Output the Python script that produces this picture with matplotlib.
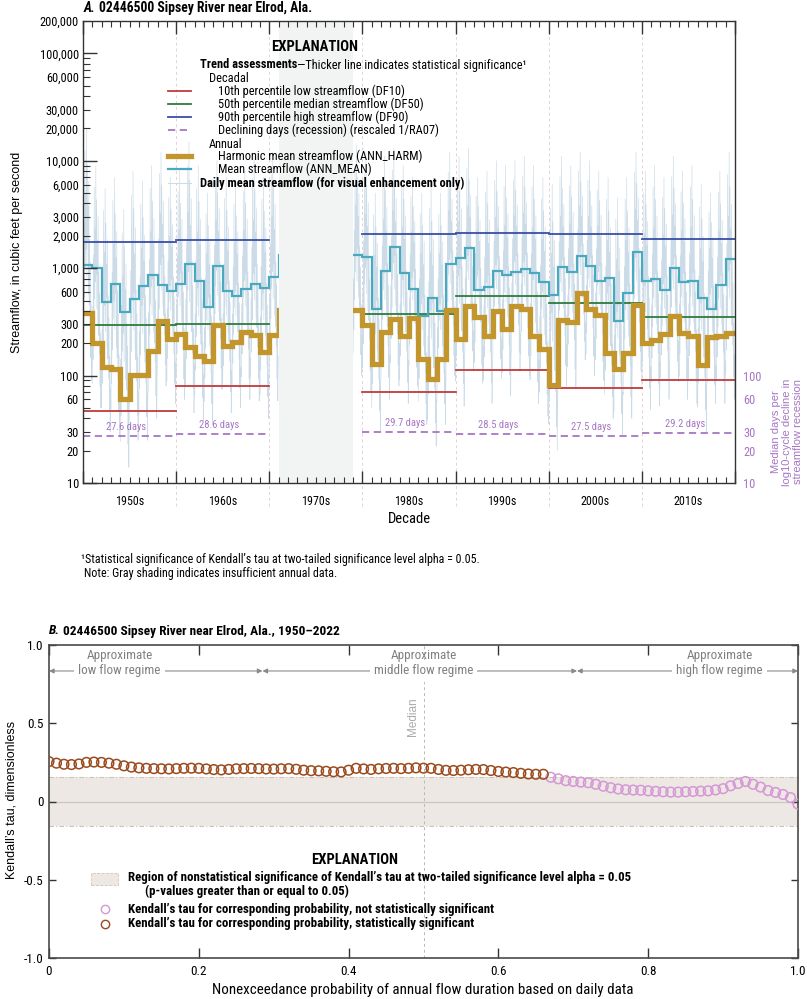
import os
import numpy as np
import matplotlib
matplotlib.use("Agg")
import matplotlib.pyplot as plt
from matplotlib.lines import Line2D
from matplotlib.patches import Rectangle
from matplotlib.ticker import FixedLocator, FixedFormatter, NullLocator, NullFormatter, FuncFormatter
import matplotlib.font_manager as fm

# ---------------- Panel A data ----------------
water_years = list(range(1951, 1972)) + list(range(1980, 2021))
ann_harm = [385, 200, 121, 115, 60, 101, 101, 169, 325, 219,
            242, 186, 152, 138, 296, 189, 207, 256, 239, 167, 239,
            408, 296, 128, 253, 336, 235, 341, 142, 92, 142,
            408, 218, 445, 354, 234, 402, 270, 448, 417, 235,
            176, 82, 330, 318, 584, 417, 367, 161, 115, 163,
            454, 200, 214, 244, 359, 251, 234, 126, 227, 234, 251]
ann_mean = [1071, 1012, 488, 708, 394, 516, 687, 864, 702, 613,
            713, 1094, 760, 438, 1048, 618, 555, 640, 718, 655, 822,
            1327, 1279, 417, 948, 1566, 908, 635, 359, 531, 399,
            1094, 1236, 1532, 627, 673, 942, 864, 916, 984, 908,
            749, 563, 1033, 916, 1300, 1055, 760, 805, 325, 591,
            1425, 765, 793, 627, 1012, 739, 765, 531, 417, 698, 1218]
# estimated annual extremes of the daily record (visual enhancement only)
daily_peak = [20000, 9000, 5500, 7000, 3500, 8000, 6500, 9000, 12000, 7000,
              8000, 15000, 9000, 5000, 10000, 7000, 6000, 8000, 11000, 7000, 12000,
              14000, 12000, 5000, 11000, 13000, 9000, 7000, 5000, 6000, 5000,
              12000, 11000, 13000, 7000, 8000, 10000, 9000, 10000, 11000, 9000,
              7000, 6000, 11000, 9000, 12000, 10000, 8000, 7000, 4500, 7000,
              12000, 8000, 9000, 7000, 11000, 8000, 9000, 6000, 5000, 8000, 12000]
daily_low = [90, 50, 30, 28, 14, 25, 25, 40, 80, 55,
             60, 45, 38, 35, 75, 45, 50, 60, 58, 40, 58,
             100, 70, 30, 60, 80, 55, 80, 35, 22, 35,
             100, 52, 110, 85, 55, 95, 65, 110, 100, 55,
             42, 20, 80, 75, 140, 100, 90, 40, 28, 40,
             110, 48, 52, 60, 88, 60, 55, 30, 55, 55, 60]
# typical within-year hydrograph (fraction between annual low and peak, log space)
hydrograph_shape = [0.10, 0.42, 0.20, 0.63, 0.33, 0.91, 0.45, 0.74, 0.52, 1.00, 0.41, 0.86,
                    0.55, 0.69, 0.34, 0.79, 0.30, 0.56, 0.22, 0.47, 0.09, 0.31, 0.00, 0.18]

decade_starts = [1950, 1960, 1980, 1990, 2000, 2010]
df10 = [47, 80, 71, 113, 76, 91]
df50 = [296, 300, 375, 555, 471, 354]
df90 = [1766, 1832, 2069, 2141, 2096, 1871]
recession_days = [27.6, 28.6, 29.7, 28.5, 27.5, 29.2]
gap_start, gap_end = 1971, 1979
decade_label_starts = [1950, 1960, 1970, 1980, 1990, 2000, 2010]
decade_labels = ["1950s", "1960s", "1970s", "1980s", "1990s", "2000s", "2010s"]
left_tick_labels = [10, 20, 30, 60, 100, 200, 300, 600, 1000, 2000, 3000, 6000,
                    10000, 20000, 30000, 60000, 100000, 200000]
right_tick_labels = [10, 20, 30, 60, 100]

# ---------------- Panel B data ----------------
probability = np.linspace(0.0, 1.0, 101)
kendall_tau = [0.255, 0.245, 0.238, 0.236, 0.240, 0.250, 0.252, 0.250, 0.245, 0.238,
               0.228, 0.220, 0.215, 0.212, 0.210, 0.209, 0.208, 0.210, 0.212, 0.213,
               0.212, 0.208, 0.204, 0.202, 0.205, 0.209, 0.210, 0.211, 0.210, 0.208,
               0.207, 0.209, 0.210, 0.206, 0.200, 0.197, 0.196, 0.193, 0.190, 0.189,
               0.200, 0.212, 0.208, 0.205, 0.209, 0.211, 0.212, 0.210, 0.212, 0.215,
               0.213, 0.212, 0.205, 0.199, 0.198, 0.200, 0.203, 0.205, 0.204, 0.198,
               0.192, 0.188, 0.185, 0.180, 0.176, 0.174, 0.174, 0.155, 0.145, 0.133,
               0.128, 0.124, 0.120, 0.110, 0.098, 0.088, 0.080, 0.075, 0.073, 0.072,
               0.068, 0.065, 0.062, 0.060, 0.060, 0.062, 0.064, 0.066, 0.068, 0.074,
               0.082, 0.100, 0.115, 0.128, 0.110, 0.092, 0.070, 0.058, 0.045, 0.025,
               -0.017]
band_half = 0.157

# ---------------- fonts ----------------
names = {f.name for f in fm.fontManager.ttflist}
SANS = "Liberation Sans" if "Liberation Sans" in names else "DejaVu Sans"


def pick_condensed():
    for p in ["Liberation Sans Narrow", "Roboto Condensed", "Noto Sans Condensed",
              "DejaVu Sans Condensed", "Open Sans Condensed", "Arial Narrow"]:
        if p in names:
            return p, "normal"
    best = None
    order = ["Roboto", "Noto Sans", "Liberation Sans", "DejaVu Sans", "Open Sans", "Lato", "Inter"]
    for f in fm.fontManager.ttflist:
        base = os.path.basename(f.fname).lower()
        st = str(f.stretch).lower()
        if (("condensed" in base or "narrow" in base or st == "condensed")
                and not any(k in base for k in ("semi", "extra", "ultra"))):
            rank = order.index(f.name) if f.name in order else 99
            if best is None or rank < best[0]:
                best = (rank, f.name, f.stretch)
    if best is not None:
        return best[1], best[2]
    return SANS, "normal"


COND, COND_STRETCH = pick_condensed()
plt.rcParams["font.family"] = [COND, "DejaVu Sans"]
plt.rcParams["font.stretch"] = COND_STRETCH

C_RED = "#bf3a3c"
C_GREEN = "#2e7b3c"
C_BLUE = "#3a4ea5"
C_PURP = "#a676c4"
C_GOLD = "#c3962d"
C_TEAL = "#4ba9bf"
C_DAILY = "#cbdbe7"
C_SHADE = "#f2f4f4"
C_SIG = "#9a4a1c"
C_NS = "#d597d5"
C_SPINE = "#333333"

W, H = 807, 999
fig = plt.figure(figsize=(W / 100, H / 100), dpi=100)
renderer = fig.canvas.get_renderer()

# scale condensed text so that a reference string has the reference width
_probe = fig.text(0, 0, "10th percentile low streamflow (DF10)", fontsize=8.5)
_w = _probe.get_window_extent(renderer=renderer).width
_probe.remove()
K = min(1.1, max(0.78, 187.0 / _w))


def fs(v):
    return v * K


def fx(p):
    return p / W


def fy(p):
    return 1 - p / H


def ftext(x, y, s, **kw):
    kw.setdefault("va", "center")
    return fig.text(fx(x), fy(y), s, **kw)


def right_px(t):
    return t.get_window_extent(renderer=renderer).x1


# =============== Panel A ===============
axA = fig.add_axes([fx(83), fy(483), (735 - 83) / W, (483 - 21) / H])
axA.set_yscale("log")
axA.set_xlim(1950, 2020)
axA.set_ylim(10, 200000)

xs, ys = [], []
prev = None
n = len(hydrograph_shape)
for w, lo, pk in zip(water_years, daily_low, daily_peak):
    if prev is not None and w - prev > 1:
        xs.append(np.nan)
        ys.append(np.nan)
    for i, f in enumerate(hydrograph_shape):
        xs.append(w - 1 + i / n)
        ys.append(lo * (pk / lo) ** f)
    prev = w
axA.plot(xs, ys, color=C_DAILY, lw=0.45, zorder=1)

for d in range(1960, 2020, 10):
    axA.axvline(d, ymin=-0.05, ymax=1, color="#e3d2d2", lw=0.7, ls=(0, (3, 3)),
                clip_on=False, zorder=0.8)

for d, v10, v50, v90, rd in zip(decade_starts, df10, df50, df90, recession_days):
    axA.plot([d, d + 10], [v10, v10], color=C_RED, lw=1.3, zorder=3)
    axA.plot([d, d + 10], [v50, v50], color=C_GREEN, lw=1.3, zorder=3)
    axA.plot([d, d + 10], [v90, v90], color=C_BLUE, lw=1.3, zorder=3)
    axA.plot([d, d + 10], [rd, rd], color=C_PURP, lw=1.3, ls=(0, (4, 2.5)), zorder=3)
    axA.text(d + 4.6, rd * 1.09, f"{rd} days", color=C_PURP, fontsize=fs(7.2),
             ha="center", va="bottom", zorder=7)

edges = [water_years[0] - 1] + water_years
axA.stairs(ann_mean, edges, baseline=None, edgecolor=C_TEAL, lw=1.6, zorder=4)
axA.stairs(ann_harm, edges, baseline=None, edgecolor=C_GOLD, lw=3.8, zorder=5)

axA.axvspan(gap_start, gap_end, facecolor=C_SHADE, edgecolor="none", zorder=6)

axA.xaxis.set_major_locator(FixedLocator(list(range(1950, 2021, 10))))
axA.xaxis.set_minor_locator(FixedLocator(list(range(1950, 2021))))
axA.xaxis.set_major_formatter(NullFormatter())
axA.xaxis.set_minor_formatter(NullFormatter())
majors = [10.0 ** k for k in range(1, 6)]
minors = [m * 10.0 ** k for k in range(1, 6) for m in range(2, 10) if m * 10.0 ** k <= 200000]
axA.yaxis.set_major_locator(FixedLocator(majors))
axA.yaxis.set_minor_locator(FixedLocator(minors))


def yfmt(v, pos):
    for t in left_tick_labels:
        if abs(v - t) < 1e-6 * t:
            return f"{t:,}"
    return ""


axA.yaxis.set_major_formatter(FuncFormatter(yfmt))
axA.yaxis.set_minor_formatter(FuncFormatter(yfmt))
axA.tick_params(which="both", direction="in", top=True, right=True, labelsize=fs(8.5),
                color=C_SPINE)
axA.tick_params(axis="x", which="major", length=9, width=1)
axA.tick_params(axis="x", which="minor", length=4, width=0.8)
axA.tick_params(axis="y", which="major", length=10, width=1, pad=3)
axA.tick_params(axis="y", which="minor", length=5, width=0.8, pad=3)
for sp in axA.spines.values():
    sp.set_color(C_SPINE)
    sp.set_linewidth(1.0)
    sp.set_zorder(10)
axA.xaxis.set_zorder(10)
axA.yaxis.set_zorder(10)

trans = axA.get_xaxis_transform()
for d, lab in zip(decade_label_starts, decade_labels):
    axA.text(d + 5, -0.041, lab, transform=trans, ha="center", va="center", fontsize=fs(8.2))

axR = axA.twinx()
axR.set_yscale("log")
axR.set_ylim(10, 200000)
axR.yaxis.set_major_locator(FixedLocator(right_tick_labels))
axR.yaxis.set_major_formatter(FixedFormatter([str(v) for v in right_tick_labels]))
axR.yaxis.set_minor_locator(NullLocator())
axR.tick_params(axis="y", length=0, labelsize=fs(8.5), labelcolor=C_PURP, pad=6)
for sp in axR.spines.values():
    sp.set_visible(False)

ftext(787, 432, "Median days per\nlog10-cycle decline in\nstreamflow recession",
      rotation=90, ha="center", color=C_PURP, fontsize=8, family=SANS,
      linespacing=1.15, multialignment="center")
ftext(17, 252, "Streamflow, in cubic feet per second", rotation=90, ha="center",
      fontsize=9, family=SANS)
ftext(409, 519, "Decade", ha="center", fontsize=fs(10))

t = ftext(84, 8, "A.", fontsize=fs(9.3), fontweight="bold", fontstyle="italic")
ftext(right_px(t) + 3, 8, "02446500 Sipsey River near Elrod, Ala.", fontsize=fs(9.3),
      fontweight="bold")

# legend A
ftext(315, 47, "EXPLANATION", ha="center", fontsize=fs(10), fontweight="bold")
t = ftext(200, 65, "Trend assessments", fontsize=fs(8.5), fontweight="bold")
ftext(right_px(t), 65, "\u2014Thicker line indicates statistical significance\u00b9", fontsize=fs(8.5))
ftext(209, 78, "Decadal", fontsize=fs(8.5))
ftext(209, 144, "Annual", fontsize=fs(8.5))
leg_items = [
    (91, C_RED, 1.3, "-", "10th percentile low streamflow (DF10)", "normal", 218),
    (104, C_GREEN, 1.3, "-", "50th percentile median streamflow (DF50)", "normal", 218),
    (117, C_BLUE, 1.3, "-", "90th percentile high streamflow (DF90)", "normal", 218),
    (130, C_PURP, 1.3, (0, (4, 2.5)), "Declining days (recession) (rescaled 1/RA07)", "normal", 218),
    (156, C_GOLD, 3.8, "-", "Harmonic mean streamflow (ANN_HARM)", "normal", 218),
    (169, C_TEAL, 1.6, "-", "Mean streamflow (ANN_MEAN)", "normal", 218),
    (183, C_DAILY, 0.8, "-", "Daily mean streamflow (for visual enhancement only)", "bold", 200),
]
for yy, col, lw, ls, lab, wt, tx in leg_items:
    fig.add_artist(Line2D([fx(168), fx(191)], [fy(yy), fy(yy)], color=col, lw=lw, ls=ls,
                          transform=fig.transFigure))
    ftext(tx, yy, lab, fontsize=fs(8.5), fontweight=wt)

ftext(81, 559, "\u00b9Statistical significance of Kendall\u2019s tau at two-tailed significance "
      "level alpha = 0.05.", fontsize=fs(8.2))
ftext(84, 573, "Note: Gray shading indicates insufficient annual data.", fontsize=fs(8.2))

# =============== Panel B ===============
axB = fig.add_axes([fx(49), fy(958), (798 - 49) / W, (958 - 645) / H])
axB.set_xlim(0, 1)
axB.set_ylim(-1, 1)
axB.axhspan(-band_half, band_half, facecolor="#ede8e3", edgecolor="none", zorder=0.5)
for v in (band_half, -band_half):
    axB.axhline(v, color="#cbc3bb", lw=0.8, ls=(0, (4, 2, 1, 2)), zorder=0.6)
axB.axhline(0, color="#c8c8c8", lw=0.9, zorder=0.7)
axB.axvline(0.5, color="#b8b8b8", lw=0.7, ls=(0, (3, 3)), zorder=0.8)
axB.text(0.486, 0.54, "Median", rotation=90, ha="center", va="center", color="#ababab",
         fontsize=8.5, family=SANS)

tau = np.array(kendall_tau)
sig = np.abs(tau) >= band_half
axB.scatter(probability[~sig], tau[~sig], s=48, facecolors="none", edgecolors=C_NS,
            linewidths=1.1, zorder=3)
axB.scatter(probability[sig], tau[sig], s=48, facecolors="none", edgecolors=C_SIG,
            linewidths=1.1, zorder=3)

regimes = [(0.0, 0.285, 0.094, "low flow regime"),
           (0.285, 0.705, 0.5, "middle flow regime"),
           (0.705, 1.0, 0.895, "high flow regime")]
for x0, x1, xc, lab in regimes:
    axB.annotate("", xy=(x1, 0.917), xytext=(x0, 0.917), xycoords="axes fraction",
                 textcoords="axes fraction",
                 arrowprops=dict(arrowstyle="<|-|>", color="#8a8a8a", lw=0.8,
                                 mutation_scale=7, shrinkA=0, shrinkB=0))
    axB.text(xc, 0.917, lab, transform=axB.transAxes, ha="center", va="center",
             color="#808080", fontsize=fs(9),
             bbox=dict(facecolor="white", edgecolor="none", pad=3))
    axB.text(xc, 0.965, "Approximate", transform=axB.transAxes, ha="center", va="center",
             color="#808080", fontsize=fs(9))

axB.set_xticks([0, 0.2, 0.4, 0.6, 0.8, 1.0])
axB.set_xticklabels(["0", "0.2", "0.4", "0.6", "0.8", "1.0"])
axB.set_yticks([-1, -0.5, 0, 0.5, 1])
axB.set_yticklabels(["-1.0", "-0.5", "0", "0.5", "1.0"])
axB.tick_params(direction="in", top=True, right=True, labelsize=fs(9), color=C_SPINE)
axB.tick_params(axis="x", length=7, width=1, pad=5)
axB.tick_params(axis="y", length=5, width=1, pad=4)
for sp in axB.spines.values():
    sp.set_color("#4a4a4a")
    sp.set_linewidth(1.2)

ftext(12, 800, "Kendall\u2019s tau, dimensionless", rotation=90, ha="center", fontsize=9,
      family=SANS)
ftext(423, 990, "Nonexceedance probability of annual flow duration based on daily data",
      ha="center", fontsize=fs(10.3))
t = ftext(49, 631, "B.", fontsize=fs(9.2), fontweight="bold", fontstyle="italic")
ftext(right_px(t) + 3, 631, "02446500 Sipsey River near Elrod, Ala., 1950\u20132022",
      fontsize=fs(9.2), fontweight="bold")

# legend B
ftext(355, 860, "EXPLANATION", ha="center", fontsize=fs(10), fontweight="bold")
fig.add_artist(Rectangle((fx(91), fy(885)), (118 - 91) / W, (885 - 873) / H,
                         transform=fig.transFigure, facecolor="#ede8e3",
                         edgecolor="#cfc6bd", lw=0.6, ls="--"))
ftext(128, 878, "Region of nonstatistical significance of Kendall\u2019s tau at two-tailed "
      "significance level alpha = 0.05", fontsize=fs(8.8), fontweight="bold")
ftext(145, 891, "(p-values greater than or equal to 0.05)", fontsize=fs(8.8), fontweight="bold")
for yy, col, lab in [(909, C_NS, "Kendall\u2019s tau for corresponding probability, not statistically significant"),
                     (924, C_SIG, "Kendall\u2019s tau for corresponding probability, statistically significant")]:
    fig.add_artist(Line2D([fx(105)], [fy(yy)], marker="o", ms=6, mfc="none", mec=col,
                          mew=1.0, transform=fig.transFigure))
    ftext(128, yy, lab, fontsize=fs(8.8), fontweight="bold")

fig.savefig("out.png", dpi=100)
